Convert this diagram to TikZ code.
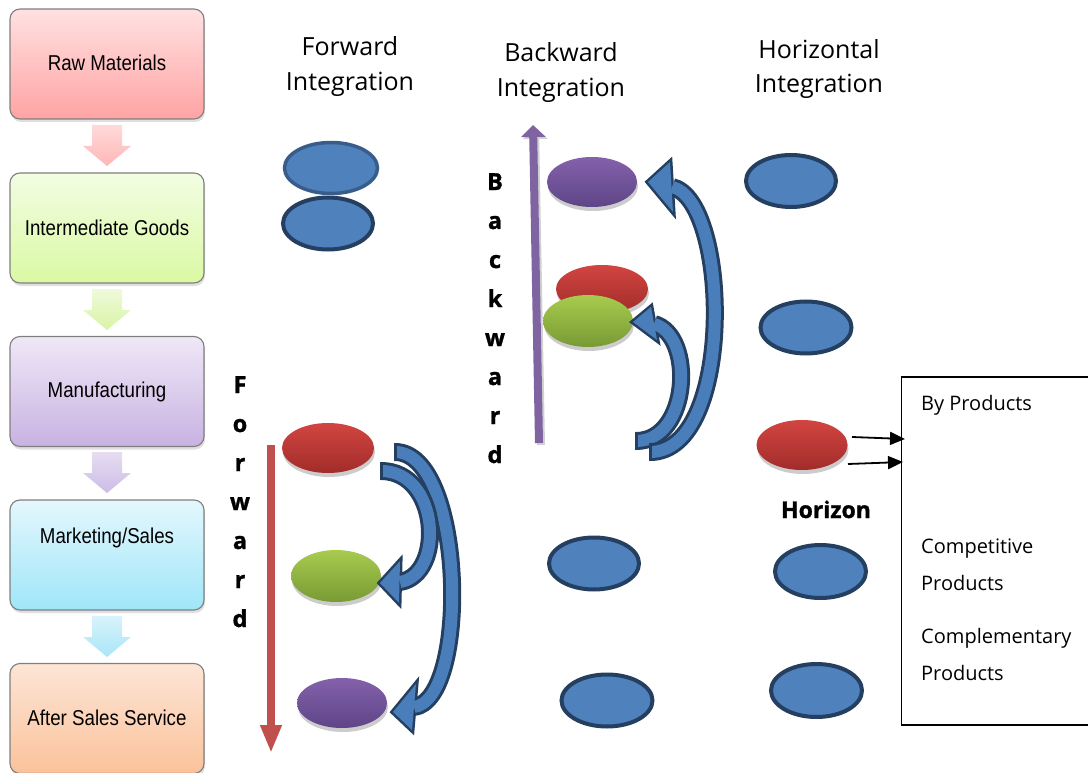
\documentclass[tikz,border=0pt]{standalone}
\usepackage{fontspec}
\setmainfont{Open Sans}
\newfontfamily\boxfont[FakeStretch=0.87]{Liberation Sans}
\newfontfamily\heavyfont[FakeBold=1.2]{Open Sans Bold}
\usetikzlibrary{shapes.geometric,arrows.meta,shadows}
\definecolor{boxline}{HTML}{7F7F7F}
\definecolor{bluefill}{HTML}{4F81BD}
\definecolor{bluedark}{HTML}{243F60}
\definecolor{bluemid}{HTML}{385D8A}
\definecolor{arrdark}{HTML}{243F60}
\definecolor{arrfill}{HTML}{4A7EBB}
\definecolor{redarr}{HTML}{C0504D}
\definecolor{purarr}{HTML}{8064A2}
\newcommand\bandarrow[7]{%
  \draw[line width=18pt, draw=arrdark] #1 .. controls #2 and #3 .. #4;
  \draw[line width=5pt, draw=arrdark, line join=miter] #5 -- #6 -- #7 -- cycle;
  \draw[line width=12pt, draw=arrfill] #1 .. controls #2 and #3 .. #4;
  \fill[arrfill] #5 -- #6 -- #7 -- cycle;
}
\begin{document}
\begin{tikzpicture}[x=1pt,y=-1pt,
  stage/.style={rectangle, rounded corners=10pt, draw=boxline, line width=1.1pt,
    minimum width=194pt, minimum height=110pt, inner sep=0pt,
    drop shadow={shadow xshift=1pt, shadow yshift=-3pt, opacity=0.25}},
  stagetext/.style={font=\boxfont\fontsize{21.5}{24}\selectfont, text=black, inner sep=0pt},
  blueell/.style={ellipse, draw=bluedark, line width=4pt, fill=bluefill, inner sep=0pt,
    minimum width=90pt, minimum height=52pt},
  gradell/.style={ellipse, inner sep=0pt, minimum width=90pt, minimum height=50pt,
    drop shadow={shadow xshift=1pt, shadow yshift=-4pt, fill=black!20, opacity=1}},
  redell/.style={gradell, top color={rgb,255:red,210;green,69;blue,65}, bottom color={rgb,255:red,161;green,44;blue,42}},
  greenell/.style={gradell, top color={rgb,255:red,168;green,203;blue,79}, bottom color={rgb,255:red,120;green,154;blue,52}},
  purell/.style={gradell, top color={rgb,255:red,132;green,97;blue,171}, bottom color={rgb,255:red,94;green,69;blue,135}},
  headtext/.style={font=\fontsize{25}{30}\selectfont, anchor=base, inner sep=0pt},
  vlet/.style={font=\heavyfont\fontsize{23.5}{28}\selectfont, anchor=base, inner sep=0pt},
  prodtext/.style={font=\fontsize{20}{24}\selectfont, anchor=base west, inner sep=0pt}
]
\useasboundingbox (0,0) rectangle (1088,773);

% ---------- left stages ----------
\node[stage, top color={rgb,255:red,255;green,225;blue,225}, bottom color={rgb,255:red,255;green,163;blue,163}] (raw) at (107,64) {};
\node[stage, top color={rgb,255:red,242;green,253;blue,227}, bottom color={rgb,255:red,218;green,249;blue,163}] (inter) at (107,228) {};
\node[stage, top color={rgb,255:red,239;green,232;blue,247}, bottom color={rgb,255:red,200;green,178;blue,226}] (manu) at (107,391.5) {};
\node[stage, top color={rgb,255:red,228;green,247;blue,253}, bottom color={rgb,255:red,159;green,230;blue,249}] (mark) at (107,555) {};
\node[stage, top color={rgb,255:red,253;green,229;blue,214}, bottom color={rgb,255:red,251;green,194;blue,154}] (after) at (107,718.5) {};

\node[stagetext] (rawt) at (107,63) {Raw Materials};
\node[stagetext] (intert) at (107,228) {Intermediate Goods};
\node[stagetext] (manut) at (107,392) {Manufacturing};
\node[stagetext] (markt) at (107,538) {Marketing/Sales};
\node[stagetext] (aftert) at (107,718) {After Sales Service};

% down block arrows
\foreach \b/\ct/\cb in {119/FFDADA/FFB6B6, 283/EFFADA/D8F4A6, 446/E6DDF2/CCBCE6, 610/D8F3FB/A8E6F8}{
  \definecolor{dtop}{HTML}{\ct}\definecolor{dbot}{HTML}{\cb}
  \shade[top color=dtop, bottom color=dbot]
    (92,\b+6) -- (122,\b+6) -- (122,\b+27) -- (131,\b+27) -- (107,\b+47) -- (83,\b+27) -- (92,\b+27) -- cycle;
}

% ---------- headings ----------
\node[headtext] (fh1) at (350,56) {Forward};
\node[headtext] (fh2) at (350,91) {Integration};
\node[headtext] (bh1) at (561,62) {Backward};
\node[headtext] (bh2) at (561,97) {Integration};
\node[headtext] (hh1) at (819,59) {Horizontal};
\node[headtext] (hh2) at (819,93) {Integration};

% ---------- forward column ----------
\node[blueell, draw=bluemid, line width=3.5pt, minimum width=93pt, minimum height=51pt] (fu) at (331,168) {};
\node[blueell] (fl) at (328,223.5) {};

\coordinate (ftop) at (271,445);
\coordinate (fbot) at (271,753);
\draw[redarr, line width=8pt, -{Triangle[length=28pt,width=20pt]}] (ftop) -- (fbot);

\node[redell, minimum width=92pt] (fr) at (328,448) {};
\node[greenell, minimum height=52pt] (fg) at (336,576) {};
\node[purell] (fp) at (342,703) {};

\foreach \c [count=\i from 0] in {F,o,r,w,a,r,d}
  \node[vlet] (fw\i) at (240,{393+39*\i}) {\c};

\bandarrow{(395,452)}{(465,452)}{(470,700)}{(414,707)}{(393,712)}{(416,684)}{(412,730)}
\draw[arrdark, line width=3pt] (395,443) -- (395,461);
\bandarrow{(381,471)}{(440,471)}{(445,575)}{(400,582)}{(380,583)}{(400,561)}{(399,603)}
\draw[arrdark, line width=3pt] (381,462) -- (381,480);

% ---------- backward column ----------
\coordinate (bbot) at (539,443);
\coordinate (btop) at (533,125);
\draw[black!18, line width=8pt, -{Triangle[length=12pt,width=24pt]}] ([xshift=2pt,yshift=-2pt]bbot) -- ([xshift=2pt,yshift=-2pt]btop);
\draw[purarr, line width=8pt, -{Triangle[length=12pt,width=24pt]}] (bbot) -- (btop);

\node[purell] (bp) at (592,182) {};
\node[redell, minimum width=92pt, minimum height=48pt] (br) at (602,289) {};
\node[greenell, minimum height=52pt] (bg) at (588,321) {};
\node[blueell] (b5) at (594,563.5) {};
\node[blueell, minimum width=91pt] (b6) at (607,700.5) {};

\foreach \c [count=\i from 0] in {B,a,c,k,w,a,r,d}
  \node[vlet] (bw\i) at (495,{190+39*\i}) {\c};

\bandarrow{(636,441)}{(690,441)}{(695,335)}{(654,324)}{(633,322)}{(651,307)}{(657,340)}
\draw[arrdark, line width=3pt] (636,432) -- (636,450);
\bandarrow{(650,452)}{(735,452)}{(730,200)}{(672,187)}{(648,182)}{(670,162)}{(673,212)}
\draw[arrdark, line width=3pt] (650,443) -- (650,461);

% ---------- horizontal column ----------
\node[blueell] (h1) at (791,181) {};
\node[blueell, minimum width=91pt] (h2) at (806,327.5) {};
\node[redell, minimum width=91pt] (hr) at (802,445) {};
\node[blueell, minimum width=91pt, minimum height=53pt] (h5) at (820.5,571.5) {};
\node[blueell, minimum width=91pt, minimum height=53pt] (h6) at (816.5,690.5) {};
\node[font=\heavyfont\fontsize{23}{28}\selectfont, anchor=base, inner sep=0pt] (hz) at (826,518) {Horizon};

\node[draw=black, line width=1.5pt, minimum width=220pt, minimum height=348pt, anchor=north west, inner sep=0pt] (prodbox) at (900.5,376) {};

\coordinate (a1s) at (852,437);
\coordinate (a1e) at (905,439);
\coordinate (a2s) at (848,464);
\coordinate (a2e) at (903,462);
\draw[black, line width=1.8pt, -{Triangle[length=15pt,width=13pt]}] (a1s) -- (a1e);
\draw[black, line width=1.8pt, -{Triangle[length=15pt,width=13pt]}] (a2s) -- (a2e);

\node[prodtext] (p1) at (921,410) {By Products};
\node[prodtext] (p2) at (921,553) {Competitive};
\node[prodtext] (p3) at (921,590) {Products};
\node[prodtext] (p4) at (921,643) {Complementary};
\node[prodtext] (p5) at (921,680) {Products};
\end{tikzpicture}
\end{document}
